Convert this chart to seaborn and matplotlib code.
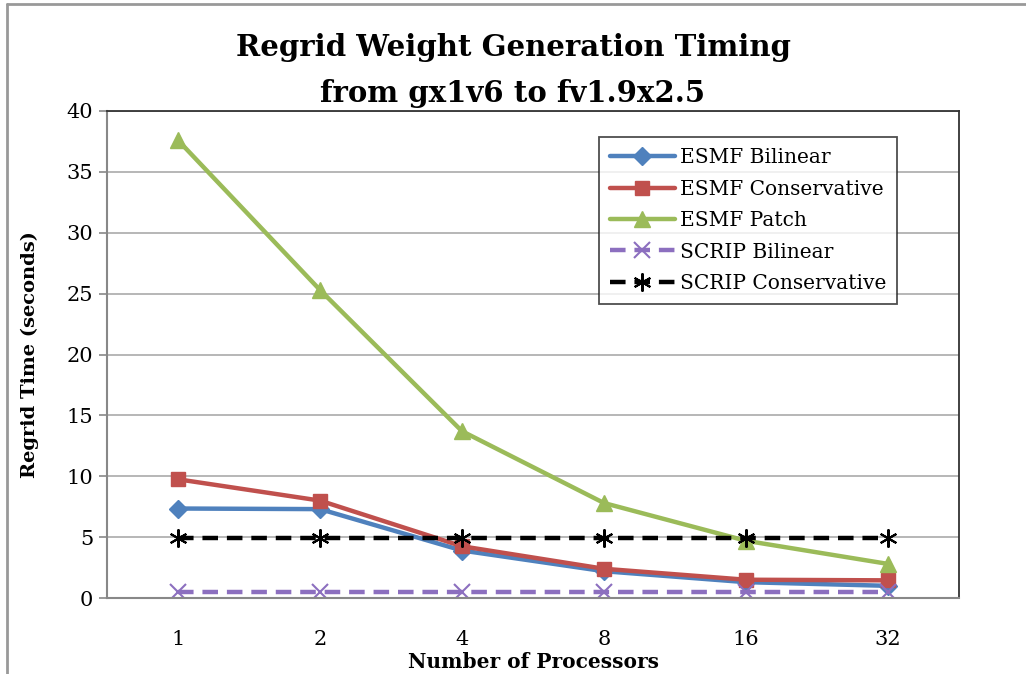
import matplotlib
matplotlib.use("Agg")
import matplotlib.pyplot as plt
import seaborn as sns
import numpy as np
from matplotlib.lines import Line2D
from matplotlib.ticker import FixedLocator

processors = ["1", "2", "4", "8", "16", "32"]
esmf_bilinear = [7.35, 7.3, 3.9, 2.2, 1.3, 1.0]
esmf_conservative = [9.75, 8.0, 4.25, 2.4, 1.5, 1.45]
esmf_patch = [37.6, 25.3, 13.7, 7.8, 4.7, 2.8]
scrip_bilinear = [0.5, 0.5, 0.5, 0.5, 0.5, 0.5]
scrip_conservative = [4.9, 4.9, 4.9, 4.9, 4.9, 4.9]

sns.set_style("white")
plt.rcParams['font.family'] = ['DejaVu Serif']
plt.rcParams['text.color'] = 'black'
plt.rcParams['xtick.labelcolor'] = 'black'
plt.rcParams['ytick.labelcolor'] = 'black'

W, H = 1026, 674
fig = plt.figure(figsize=(W / 100, H / 100), dpi=100)
L, R, T, B = 107, 959, 111, 598
ax = fig.add_axes([L / W, 1 - B / H, (R - L) / W, (B - T) / H])

xpos = np.arange(len(processors))
dash = (0, (3.5, 2))
series = [
    ("ESMF Bilinear", esmf_bilinear, "#4F81BD", "D", "-", 9),
    ("ESMF Conservative", esmf_conservative, "#C0504D", "s", "-", 10.5),
    ("ESMF Patch", esmf_patch, "#9BBB59", "^", "-", 12),
    ("SCRIP Bilinear", scrip_bilinear, "#8C6FBF", "x", dash, 11),
    ("SCRIP Conservative", scrip_conservative, "#000000", (6, 2, 0), dash, 13),
]
for name, vals, col, mk, ls, ms in series:
    sns.lineplot(x=xpos, y=vals, ax=ax, color=col, marker=mk, linestyle=ls,
                 linewidth=3.2, markersize=ms, markeredgecolor=col,
                 markeredgewidth=1.5 if mk in ("x", (6, 2, 0)) else 1,
                 label=name)

ax.set_xlim(-0.5, len(processors) - 0.5)
ax.set_ylim(0, 40)
ax.set_yticks(np.arange(0, 41, 5))
ax.set_xticks(xpos)
ax.set_xticklabels(processors)
ax.xaxis.set_minor_locator(FixedLocator(np.arange(-0.5, len(processors), 1.0)))
ax.tick_params(axis='x', which='major', length=0, pad=23, labelsize=15)
ax.tick_params(axis='x', which='minor', length=6, width=1.2, color='#888888', direction='out')
ax.tick_params(axis='y', which='major', length=6, width=1.2, color='#888888',
               direction='out', labelsize=15, pad=4, left=True)
ax.yaxis.grid(True, color='#AAAAAA', linewidth=1.2)
ax.set_axisbelow(True)
for s in ['top', 'right']:
    ax.spines[s].set_color('#333333')
    ax.spines[s].set_linewidth(1.3)
for s in ['left', 'bottom']:
    ax.spines[s].set_color('#888888')
    ax.spines[s].set_linewidth(1.5)

ax.set_xlabel("")
ax.set_ylabel("")
fig.text((L + R) / 2 / W, 1 - 662 / H, "Number of Processors", fontsize=14.5,
         fontweight='bold', ha='center', va='center')
fig.text(30 / W, 1 - 355 / H, "Regrid Time (seconds)", fontsize=14,
         fontweight='bold', ha='center', va='center', rotation=90)
fig.text(0.5, 1 - 48 / H, "Regrid Weight Generation Timing", fontsize=21,
         fontweight='bold', ha='center', va='center')
fig.text(0.5, 1 - 93 / H, "from gx1v6 to fv1.9x2.5", fontsize=21,
         fontweight='bold', ha='center', va='center')

leg = ax.legend(loc='upper right', bbox_to_anchor=((897 - L) / (R - L), (B - 137) / (B - T)),
                fontsize=14.5, frameon=True, fancybox=False, handlelength=3.2,
                borderpad=0.55, labelspacing=0.62, handletextpad=0.25,
                borderaxespad=0)
leg.get_frame().set_edgecolor('#222222')
leg.get_frame().set_linewidth(1.3)

fig.add_artist(Line2D([7 / W, 7 / W], [0, 1 - 4 / H], transform=fig.transFigure,
                      color='#999999', linewidth=2))
fig.add_artist(Line2D([7 / W, 1], [1 - 4 / H, 1 - 4 / H], transform=fig.transFigure,
                      color='#999999', linewidth=2))

fig.savefig("out.png", dpi=100)
